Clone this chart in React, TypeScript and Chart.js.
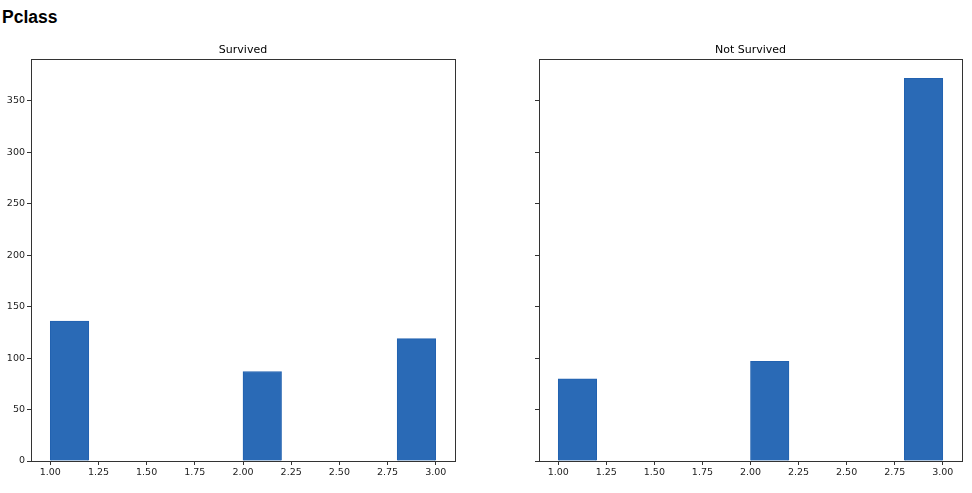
import React, { useEffect, useRef } from "react";
import { Chart, registerables } from "chart.js";

Chart.register(...registerables);

const figureTitle = "Pclass";
const panelTitles = ["Survived", "Not Survived"];
const binCenters = [1.1, 1.3, 1.5, 1.7, 1.9, 2.1, 2.3, 2.5, 2.7, 2.9];
const survivedCounts = [136, 0, 0, 0, 0, 87, 0, 0, 0, 119];
const notSurvivedCounts = [80, 0, 0, 0, 0, 97, 0, 0, 0, 372];
const xTickValues = [1.0, 1.25, 1.5, 1.75, 2.0, 2.25, 2.5, 2.75, 3.0];
const xTickLabels = ["1.00", "1.25", "1.50", "1.75", "2.00", "2.25", "2.50", "2.75", "3.00"];
const yTickValues = [0, 50, 100, 150, 200, 250, 300, 350];
const yTickLabels = ["0", "50", "100", "150", "200", "250", "300", "350"];
const xMin = 0.9;
const xMax = 3.1;
const yMax = 390.6;

const BAR_FILL = "#2a6ab6";
const BAR_EDGE = "#2262b0";
const AXIS = "#333333";
const FONT = "'DejaVu Sans', sans-serif";

const framePlugin = {
  id: "frame",
  afterDraw(chart: any) {
    const { ctx, chartArea } = chart;
    ctx.save();
    ctx.strokeStyle = AXIS;
    ctx.lineWidth = 1;
    const l = Math.round(chartArea.left) + 0.5;
    const r = Math.round(chartArea.right) + 0.5;
    const t = Math.round(chartArea.top) + 0.5;
    const b = Math.round(chartArea.bottom) + 0.5;
    ctx.strokeRect(l, t, r - l, b - t);
    ctx.restore();
  },
};

function Panel(props: {
  title: string;
  counts: number[];
  showYLabels: boolean;
  yAxisWidth: number;
  padRight: number;
  left: number;
  width: number;
}) {
  const ref = useRef<HTMLCanvasElement | null>(null);
  useEffect(() => {
    if (!ref.current) return;
    const chart = new Chart(ref.current, {
      type: "bar",
      data: {
        datasets: [
          {
            data: binCenters.map((x, i) => ({ x, y: props.counts[i] })),
            backgroundColor: BAR_FILL,
            borderColor: BAR_EDGE,
            borderWidth: 1,
            borderSkipped: "start",
            categoryPercentage: 1,
            barPercentage: 1,
          } as any,
        ],
      },
      options: {
        animation: false,
        responsive: false,
        maintainAspectRatio: false,
        layout: { padding: { top: 44, right: props.padRight, bottom: 0, left: 0 } },
        plugins: {
          legend: { display: false },
          tooltip: { enabled: false },
          title: {
            display: true,
            fullSize: false,
            text: props.title,
            color: "#000",
            font: { family: FONT, size: 11, weight: "normal" },
            padding: { top: 0, bottom: 2 },
          },
        },
        scales: {
          x: {
            type: "linear",
            min: xMin,
            max: xMax,
            offset: false,
            grid: {
              display: true,
              drawOnChartArea: false,
              drawTicks: true,
              tickLength: 4,
              color: AXIS,
              tickColor: AXIS,
              offset: false,
            },
            border: { display: true, color: AXIS, width: 1 },
            ticks: {
              autoSkip: false,
              maxRotation: 0,
              padding: 2,
              color: "#222",
              font: { family: FONT, size: 9.5 },
              callback: (_v: any, i: number) => xTickLabels[i],
            },
            afterBuildTicks: (scale: any) => {
              scale.ticks = xTickValues.map((v) => ({ value: v }));
            },
            afterFit: (scale: any) => {
              scale.height = 32;
            },
          } as any,
          y: {
            type: "linear",
            min: 0,
            max: yMax,
            grid: {
              display: true,
              drawOnChartArea: false,
              drawTicks: true,
              tickLength: 4,
              color: AXIS,
              tickColor: AXIS,
            },
            border: { display: true, color: AXIS, width: 1 },
            ticks: {
              display: props.showYLabels,
              padding: 2,
              color: "#222",
              font: { family: FONT, size: 9.5 },
              callback: (_v: any, i: number) => yTickLabels[i],
            },
            afterBuildTicks: (scale: any) => {
              scale.ticks = yTickValues.map((v) => ({ value: v }));
            },
            afterFit: (scale: any) => {
              scale.width = props.yAxisWidth;
            },
          } as any,
        },
      },
      plugins: [framePlugin],
    });
    return () => chart.destroy();
  }, []);
  return (
    <div style={{ position: "absolute", left: props.left, top: 0, width: props.width, height: 493 }}>
      <canvas ref={ref} width={props.width} height={493} style={{ width: props.width, height: 493 }} />
    </div>
  );
}

export default function App() {
  return (
    <div
      style={{
        position: "fixed",
        left: 0,
        top: 0,
        width: 972,
        height: 493,
        background: "#fff",
        overflow: "hidden",
      }}
    >
      <div
        style={{
          position: "absolute",
          left: 2,
          top: 9,
          fontFamily: "'Liberation Sans', Arial, sans-serif",
          fontWeight: "bold",
          fontSize: 17.5,
          lineHeight: "17px",
          color: "#000",
          whiteSpace: "nowrap",
        }}
      >
        {figureTitle}
      </div>
      <Panel
        title={panelTitles[0]}
        counts={survivedCounts}
        showYLabels={true}
        yAxisWidth={31}
        padRight={35}
        left={0}
        width={490}
      />
      <Panel
        title={panelTitles[1]}
        counts={notSurvivedCounts}
        showYLabels={false}
        yAxisWidth={49}
        padRight={10}
        left={490}
        width={482}
      />
    </div>
  );
}
